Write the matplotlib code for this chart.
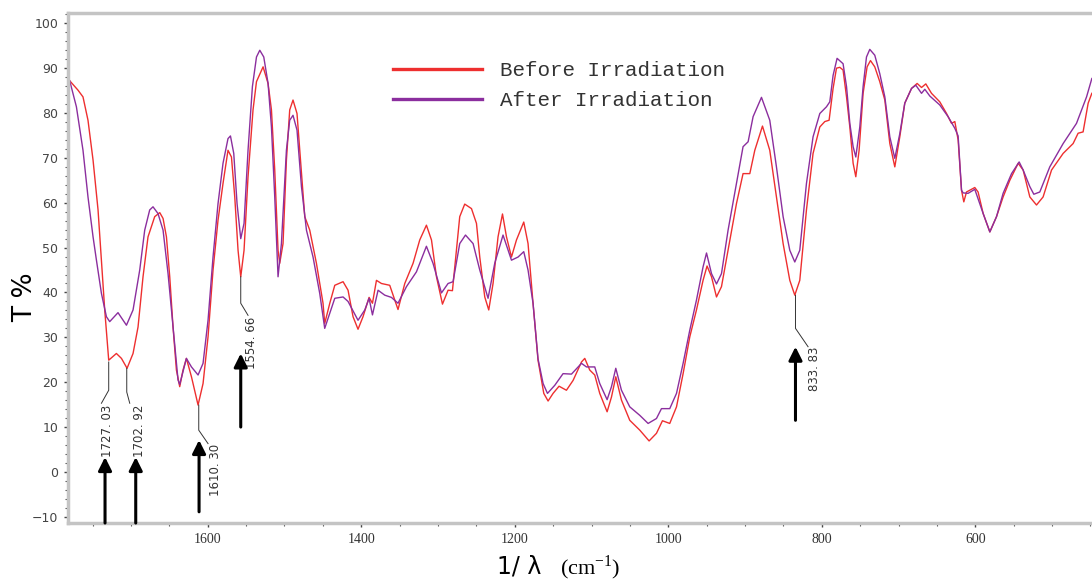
import numpy as np
import matplotlib.pyplot as plt
from matplotlib.ticker import MultipleLocator

before_wn = [1779.8, 1769.0, 1762.5, 1756.0, 1749.4, 1742.9, 1738.5, 1734.2, 1729.0, 1719.0,
             1712.4, 1705.1, 1697.3, 1690.8, 1684.3, 1677.8, 1669.1, 1662.5, 1658.2, 1653.8,
             1649.5, 1645.2, 1640.8, 1636.5, 1632.2, 1627.8, 1621.2, 1612.6, 1606.1, 1599.6,
             1593.1, 1586.6, 1580.1, 1573.6, 1569.1, 1564.8, 1560.5, 1557.0, 1552.7, 1547.5,
             1541.0, 1536.5, 1527.9, 1521.4, 1517.0, 1512.7, 1508.4, 1506.2, 1501.9, 1497.5,
             1493.2, 1488.9, 1483.7, 1480.1, 1473.6, 1467.1, 1458.4, 1449.8, 1447.6, 1441.0,
             1434.5, 1423.7, 1417.2, 1410.7, 1404.2, 1397.7, 1389.8, 1385.4, 1380.2, 1373.7,
             1362.9, 1352.1, 1343.3, 1332.5, 1323.8, 1315.1, 1308.5, 1302.0, 1294.2, 1286.9,
             1281.2, 1276.0, 1271.7, 1265.2, 1256.4, 1249.9, 1245.6, 1239.1, 1233.9, 1228.3,
             1221.8, 1216.0, 1210.8, 1204.3, 1197.8, 1188.3, 1182.7, 1176.2, 1169.7, 1162.2,
             1156.6, 1150.1, 1142.3, 1132.7, 1124.0, 1113.1, 1108.8, 1102.3, 1095.8, 1089.3,
             1079.7, 1074.0, 1068.4, 1061.0, 1050.2, 1037.1, 1025.0, 1015.4, 1007.6, 998.1,
             989.3, 980.7, 972.0, 963.3, 954.7, 949.5, 943.7, 937.2, 930.7, 922.1,
             911.2, 902.6, 893.8, 887.3, 877.3, 867.8, 859.1, 850.4, 841.7, 835.2,
             828.7, 820.0, 811.4, 802.6, 796.1, 790.5, 785.3, 780.9, 776.6, 772.3,
             767.8, 763.5, 759.2, 755.7, 751.4, 746.2, 741.0, 736.6, 731.0, 724.5,
             717.9, 711.4, 704.9, 698.4, 691.9, 683.1, 675.8, 670.1, 664.5, 657.1,
             646.3, 637.5, 631.0, 626.7, 622.4, 618.0, 615.0, 611.5, 600.7, 596.4,
             589.8, 581.1, 572.4, 563.8, 555.1, 544.2, 537.7, 529.0, 520.3, 511.7,
             500.7, 485.6, 472.6, 466.1, 459.6, 453.0, 448.2]
before_t = [87.2, 85.1, 83.6, 78.4, 69.5, 58.4, 47.2, 36.1, 24.9, 26.4,
            25.3, 23.1, 26.4, 32.3, 43.5, 52.4, 56.9, 57.8, 56.5, 52.4,
            43.5, 32.3, 22.7, 19.0, 22.7, 25.3, 21.2, 14.9, 19.7, 30.1,
            45.0, 56.1, 64.3, 71.7, 70.2, 61.3, 49.4, 43.5, 49.4, 65.8,
            80.7, 87.0, 90.3, 86.6, 80.7, 67.3, 49.4, 46.5, 50.9, 69.5,
            80.7, 82.9, 79.9, 71.7, 56.9, 53.9, 46.5, 37.6, 33.1, 37.6,
            41.6, 42.4, 40.5, 34.6, 31.8, 34.6, 38.9, 37.6, 42.7, 42.0,
            41.6, 36.2, 42.0, 46.5, 51.7, 55.0, 51.7, 43.5, 37.4, 40.5,
            40.4, 49.4, 56.9, 59.7, 58.7, 55.4, 47.9, 39.0, 36.1, 42.0,
            52.4, 57.5, 52.4, 47.9, 51.7, 55.7, 50.9, 37.6, 24.9, 17.5,
            15.8, 17.5, 19.1, 18.2, 20.4, 24.5, 25.3, 22.7, 21.6, 17.5,
            13.4, 16.7, 21.2, 16.0, 11.5, 9.3, 6.9, 8.6, 11.4, 10.8,
            14.5, 21.9, 30.1, 36.1, 42.7, 45.9, 43.5, 39.0, 41.3, 49.4,
            59.8, 66.5, 66.5, 71.7, 77.1, 71.7, 61.3, 50.9, 42.7, 39.4,
            42.7, 58.4, 71.0, 76.9, 78.1, 78.4, 85.5, 90.0, 90.2, 89.6,
            83.6, 76.9, 68.8, 65.8, 71.7, 84.4, 90.3, 91.7, 90.3, 87.0,
            82.9, 73.2, 68.0, 74.7, 82.2, 85.5, 86.6, 85.7, 86.5, 84.4,
            82.5, 79.9, 77.7, 78.1, 74.0, 62.8, 60.2, 62.4, 63.4, 62.4,
            57.6, 53.5, 56.9, 61.3, 65.0, 68.8, 67.3, 61.3, 59.5, 61.3,
            67.3, 71.0, 73.2, 75.5, 75.8, 82.2, 84.4]

after_wn = [1779.8, 1771.1, 1762.5, 1756.0, 1749.4, 1745.0, 1738.5, 1732.0, 1727.7, 1716.9,
            1705.9, 1697.3, 1688.6, 1682.1, 1675.6, 1671.3, 1664.8, 1658.2, 1651.7, 1645.2,
            1638.7, 1636.5, 1627.8, 1621.2, 1612.6, 1606.1, 1599.6, 1593.1, 1586.6, 1580.1,
            1573.6, 1570.4, 1566.1, 1561.8, 1557.0, 1552.7, 1547.5, 1541.8, 1536.5, 1532.2,
            1527.0, 1521.4, 1517.0, 1512.7, 1508.4, 1504.0, 1497.5, 1493.2, 1488.9, 1483.7,
            1477.9, 1471.4, 1462.8, 1454.1, 1447.6, 1434.5, 1423.7, 1417.2, 1404.2, 1395.4,
            1389.8, 1385.4, 1378.1, 1369.4, 1360.7, 1352.1, 1341.1, 1328.1, 1315.1, 1306.5,
            1295.5, 1286.9, 1280.4, 1271.7, 1264.2, 1254.3, 1245.6, 1234.8, 1226.1, 1215.3,
            1204.3, 1195.7, 1188.3, 1182.7, 1176.2, 1169.7, 1163.1, 1157.4, 1147.9, 1137.1,
            1126.1, 1113.1, 1106.6, 1095.8, 1089.3, 1079.7, 1074.0, 1068.4, 1061.0, 1050.2,
            1037.1, 1026.3, 1015.4, 1008.9, 998.1, 989.3, 980.7, 972.0, 963.3, 954.7,
            950.2, 943.7, 937.2, 930.7, 922.1, 911.2, 902.6, 896.0, 889.5, 878.6,
            867.8, 859.1, 850.4, 841.7, 835.2, 828.7, 820.0, 811.4, 802.6, 793.9,
            789.6, 785.3, 780.1, 772.3, 767.8, 763.5, 759.2, 755.7, 750.5, 746.2,
            741.8, 737.5, 731.0, 724.5, 717.9, 711.4, 704.9, 698.4, 691.9, 683.1,
            677.5, 670.1, 665.8, 659.3, 646.3, 635.5, 626.7, 622.4, 618.0, 615.9,
            609.4, 600.7, 589.8, 581.1, 572.4, 563.8, 552.8, 542.9, 537.7, 529.0,
            523.8, 516.0, 503.0, 485.6, 468.2, 455.1, 448.2]
after_t = [87.2, 81.4, 71.7, 61.3, 52.4, 47.2, 39.8, 34.6, 33.5, 35.5,
           32.7, 36.1, 45.0, 53.9, 58.4, 59.1, 57.6, 53.9, 44.2, 32.3,
           20.5, 19.5, 25.3, 23.4, 21.6, 24.2, 33.8, 47.9, 59.8, 68.8,
           74.3, 74.9, 71.0, 59.8, 52.0, 55.4, 71.7, 85.9, 92.5, 94.0,
           92.5, 86.6, 76.9, 61.3, 43.5, 50.9, 71.7, 78.4, 79.5, 76.2,
           63.6, 53.9, 47.9, 39.8, 32.0, 38.7, 39.0, 38.0, 33.8, 36.1,
           38.7, 35.0, 40.5, 39.4, 38.9, 37.6, 41.3, 44.6, 50.3, 46.5,
           39.9, 42.0, 42.4, 50.9, 52.8, 50.9, 45.0, 38.7, 46.5, 52.8,
           47.2, 47.9, 49.1, 45.0, 37.6, 25.2, 19.7, 17.5, 19.3, 21.9,
           21.8, 24.2, 23.4, 23.4, 19.7, 16.1, 19.0, 23.1, 18.2, 14.5,
           12.6, 10.8, 11.9, 14.1, 14.1, 17.5, 24.2, 31.6, 38.3, 45.7,
           48.8, 44.2, 41.9, 44.2, 53.9, 64.3, 72.5, 73.6, 79.2, 83.5,
           78.4, 68.0, 56.9, 49.4, 46.8, 49.4, 64.3, 74.7, 79.9, 81.4,
           82.5, 88.4, 92.2, 91.0, 85.9, 77.7, 72.5, 70.2, 76.9, 85.9,
           92.5, 94.2, 92.9, 88.8, 83.6, 74.7, 69.9, 75.4, 82.2, 85.5,
           86.2, 84.4, 85.3, 83.8, 81.8, 79.2, 76.6, 74.9, 62.8, 62.2,
           62.1, 63.0, 57.6, 53.5, 56.9, 62.1, 66.5, 69.1, 67.3, 63.6,
           61.9, 62.4, 68.0, 73.2, 77.7, 83.6, 87.7]

peak_labels = ['1727. 03', '1702. 92', '1610. 30', '1554. 66', '833. 83']

RED = '#ee2f2f'
PURPLE = '#8b2e9e'
GREY = '#c4c4c4'

fig = plt.figure(figsize=(10.92, 5.81), dpi=100)
ax = fig.add_axes([0.0623, 0.0998, 0.9377, 0.877])

ax.plot(before_wn, before_t, color=RED, lw=1.0, label='Before Irradiation')
ax.plot(after_wn, after_t, color=PURPLE, lw=1.0, label='After Irradiation')

ax.set_xlim(1782, 448)
ax.set_ylim(-11.4, 102.2)

# leader line (curve, knee, end), label top, arrow (x, tip, base)
ann = [
    ((1729.0, 24.5), (1729.0, 18.2), (1738.5, 15.3), (1730.0, 14.9), (1733.8, 3.3, -11.4)),
    ((1705.5, 23.1), (1705.5, 17.8), (1701.6, 15.3), (1688.6, 14.9), (1693.8, 3.3, -11.4)),
    ((1611.7, 14.9), (1611.7, 9.3), (1599.6, 6.3), (1589.6, 6.3), (1611.3, 7.1, -8.9)),
    ((1557.0, 43.5), (1557.0, 37.6), (1547.5, 34.9), (1543.1, 34.6), (1557.0, 26.4, 10.0)),
    ((834.3, 39.4), (834.3, 32.0), (817.9, 27.9), (809.1, 27.9), (834.3, 27.9, 11.5)),
]
for lab, (p0, p1, p2, tpos, arr) in zip(peak_labels, ann):
    ax.plot([p0[0], p1[0], p2[0]], [p0[1], p1[1], p2[1]], color='#333333', lw=0.7)
    ax.text(tpos[0], tpos[1], lab, rotation=90, ha='center', va='top', fontsize=8.5,
            color='#333333')
    ax.annotate('', xy=(arr[0], arr[1]), xytext=(arr[0], arr[2]),
                arrowprops=dict(arrowstyle='-|>', lw=2.2, color='black',
                                mutation_scale=20, shrinkA=0, shrinkB=0),
                annotation_clip=False)

# axes styling
for s in ['top', 'bottom', 'left']:
    ax.spines[s].set_color(GREY)
    ax.spines[s].set_linewidth(2.5)
ax.spines['right'].set_visible(False)

ax.xaxis.set_major_locator(MultipleLocator(200))
ax.xaxis.set_minor_locator(MultipleLocator(50))
ax.yaxis.set_major_locator(MultipleLocator(10))
ax.yaxis.set_minor_locator(MultipleLocator(2))
ax.tick_params(axis='both', which='major', length=3, width=1, color='#444444', pad=4)
ax.tick_params(axis='both', which='minor', length=2, width=0.8, color='#555555')
ax.tick_params(axis='y', labelsize=9, labelcolor='#444444')
ax.tick_params(axis='x', labelsize=10, labelcolor='#333333')
for t in ax.get_xticklabels():
    t.set_family('Liberation Serif')

leg = ax.legend(loc='upper left', bbox_to_anchor=(0.317, 0.907), frameon=False,
                borderpad=0, borderaxespad=0, handlelength=4.3, handletextpad=0.85,
                labelspacing=0.55, prop={'family': 'Liberation Mono', 'size': 15})
for line in leg.get_lines():
    line.set_linewidth(2.4)
for t in leg.get_texts():
    t.set_color('#333333')

fig.text(25 / 1092, 1 - 297 / 581, 'T %', rotation=90, ha='center', va='center',
         fontsize=19, color='black')
fig.text(497 / 1092, 1 - 574 / 581, '1/ λ', ha='left', va='baseline', fontsize=17)
fig.text(560 / 1092, 1 - 574 / 581, '(cm$^{\\mathregular{-1}}$)', ha='left', va='baseline',
         fontsize=16, family='Liberation Serif')

fig.savefig('out.png', dpi=100)
